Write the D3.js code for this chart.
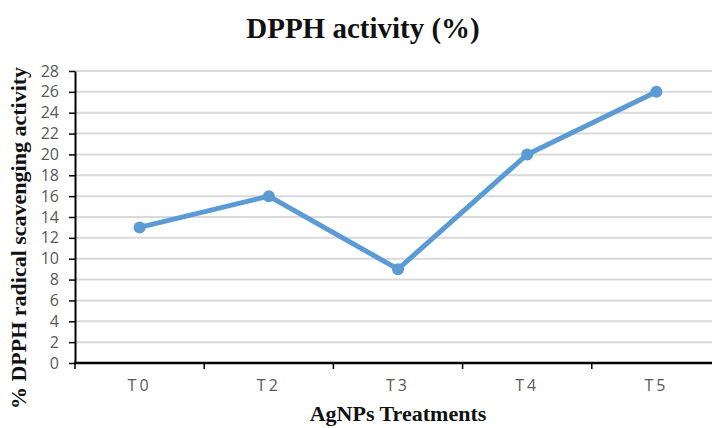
<!DOCTYPE html>
<html>
<head>
<meta charset="utf-8">
<script src="https://cdn.jsdelivr.net/npm/d3@7"></script>
<style>
  body { margin: 0; background: #fff; }
  svg { display: block; }
</style>
</head>
<body>
<div id="chart"></div>
<script>
const treatments = ["T0", "T2", "T3", "T4", "T5"];
const dpphValues = [13, 16, 9, 20, 26];
const yTicks = [0, 2, 4, 6, 8, 10, 12, 14, 16, 18, 20, 22, 24, 26, 28];

const width = 712, height = 428;
const lineColor = "#5b9bd5";

const svg = d3.select("#chart")
  .append("svg")
  .attr("width", width)
  .attr("height", height);

// plot area (runs off the right edge like the original)
const plotLeft = 75, plotRight = 721, plotTop = 71, plotBottom = 363;

const x = d3.scaleBand()
  .domain(treatments)
  .range([plotLeft, plotRight]);

const y = d3.scaleLinear()
  .domain([0, 28])
  .range([plotBottom, plotTop]);

// gridlines
svg.append("g")
  .selectAll("line")
  .data(yTicks.filter(d => d > 0))
  .join("line")
  .attr("x1", plotLeft)
  .attr("x2", width)
  .attr("y1", d => y(d))
  .attr("y2", d => y(d))
  .attr("stroke", "#d9d9d9")
  .attr("stroke-width", 2);

// y axis
const yAxis = svg.append("g")
  .attr("transform", `translate(${plotLeft},0)`)
  .call(d3.axisLeft(y).tickValues(yTicks).tickSize(6).tickPadding(10).tickSizeOuter(0));
yAxis.select(".domain").attr("stroke", "#000").attr("stroke-width", 2);
yAxis.selectAll(".tick line").attr("stroke", "#000").attr("stroke-width", 1.5);
yAxis.selectAll("text")
  .attr("fill", "#595959")
  .style("font-family", "'Open Sans', sans-serif")
  .style("font-size", "16px");

// x axis
const xAxis = svg.append("g")
  .attr("transform", `translate(0,${plotBottom})`)
  .call(d3.axisBottom(x).tickSize(0).tickPadding(17).tickSizeOuter(0));
xAxis.select(".domain").remove();
xAxis.selectAll("text")
  .attr("fill", "#595959")
  .style("font-family", "'Open Sans', sans-serif")
  .style("font-size", "16px")
  .style("letter-spacing", "3px");

svg.append("line")
  .attr("x1", plotLeft - 1)
  .attr("x2", width)
  .attr("y1", plotBottom)
  .attr("y2", plotBottom)
  .attr("stroke", "#000")
  .attr("stroke-width", 2.5);

// band boundary ticks
svg.append("g")
  .selectAll("line")
  .data(treatments)
  .join("line")
  .attr("x1", d => x(d))
  .attr("x2", d => x(d))
  .attr("y1", plotBottom)
  .attr("y2", plotBottom + 6)
  .attr("stroke", "#000")
  .attr("stroke-width", 1.5);

// series
const pts = treatments.map((t, i) => ({ t, v: dpphValues[i] }));

svg.append("path")
  .datum(pts)
  .attr("fill", "none")
  .attr("stroke", lineColor)
  .attr("stroke-width", 5)
  .attr("stroke-linejoin", "round")
  .attr("d", d3.line()
    .x(d => x(d.t) + x.bandwidth() / 2)
    .y(d => y(d.v)));

svg.append("g")
  .selectAll("circle")
  .data(pts)
  .join("circle")
  .attr("cx", d => x(d.t) + x.bandwidth() / 2)
  .attr("cy", d => y(d.v))
  .attr("r", 6)
  .attr("fill", lineColor);

// titles
svg.append("text")
  .attr("x", 363)
  .attr("y", 38)
  .attr("text-anchor", "middle")
  .style("font-family", "'Liberation Serif', 'Times New Roman', serif")
  .style("font-weight", "bold")
  .style("font-size", "29px")
  .attr("fill", "#111")
  .text("DPPH activity (%)");

svg.append("text")
  .attr("x", 398)
  .attr("y", 421)
  .attr("text-anchor", "middle")
  .style("font-family", "'Liberation Serif', 'Times New Roman', serif")
  .style("font-weight", "bold")
  .style("font-size", "22px")
  .attr("fill", "#111")
  .text("AgNPs Treatments");

svg.append("text")
  .attr("transform", "translate(26,238) rotate(-90)")
  .attr("text-anchor", "middle")
  .style("font-family", "'Liberation Serif', 'Times New Roman', serif")
  .style("font-weight", "bold")
  .style("font-size", "22px")
  .attr("fill", "#111")
  .text("% DPPH radical scavenging activity");
</script>
</body>
</html>
